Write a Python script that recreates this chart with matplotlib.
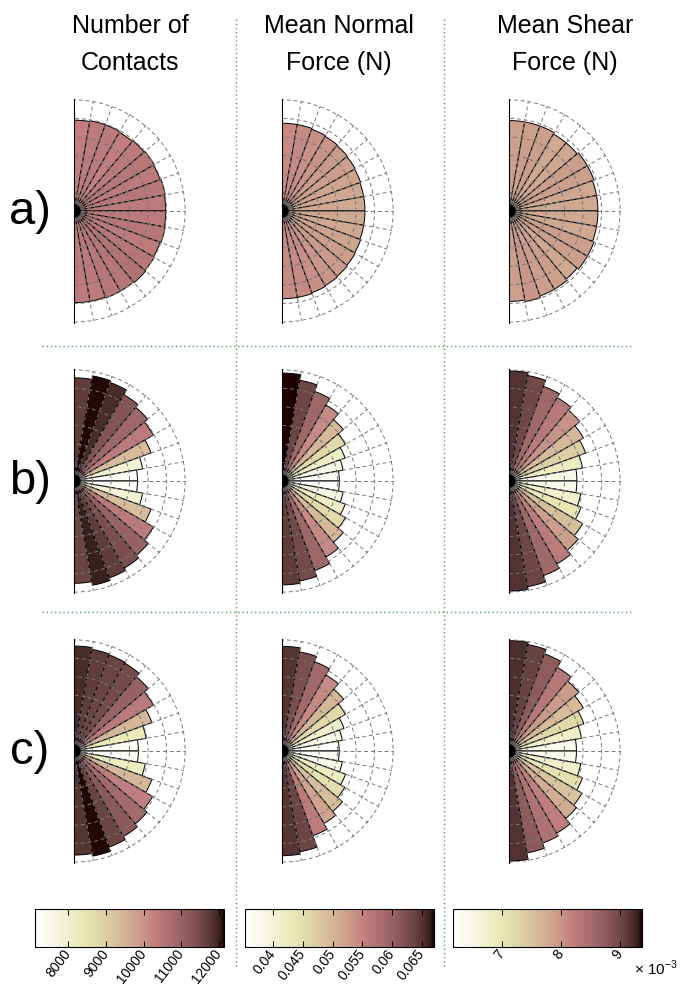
import numpy as np
import matplotlib
matplotlib.use('Agg')
import matplotlib.pyplot as plt
from matplotlib.lines import Line2D
from matplotlib.colors import Normalize
from matplotlib.cm import ScalarMappable

plt.rcParams['font.family'] = ['Liberation Sans', 'DejaVu Sans']
plt.rcParams['mathtext.fontset'] = 'custom'
plt.rcParams['mathtext.rm'] = 'Liberation Sans'

W, H = 681, 987

# bin centres in degrees, from the top of the half rose down to the bottom
angles = [85, 75, 65, 55, 45, 35, 25, 15, 5, -5, -15, -25, -35, -45, -55, -65, -75, -85]

col_titles = ['Number of\nContacts', 'Mean Normal\nForce (N)', 'Mean Shear\nForce (N)']
row_labels = ['a)', 'b)', 'c)']

contacts_a = [10300, 10400, 10400, 10300, 10400, 10500, 10400, 10500, 10400,
              10400, 10500, 10400, 10500, 10600, 10500, 10500, 10400, 10400]
contacts_b = [11700, 12100, 11900, 11300, 10900, 10400, 9300, 7900, 7200,
              7200, 7900, 9300, 10400, 11000, 11400, 11700, 12000, 11600]
contacts_c = [11900, 11700, 11600, 11500, 11000, 10400, 9400, 8300, 7300,
              7300, 8200, 9400, 10300, 10800, 11200, 11600, 12100, 11800]

normal_a = [0.0545, 0.0545, 0.054, 0.0535, 0.053, 0.0525, 0.052, 0.0515, 0.0515,
            0.0515, 0.0515, 0.052, 0.0525, 0.053, 0.0535, 0.054, 0.0545, 0.0545]
normal_b = [0.0670, 0.0635, 0.0592, 0.0545, 0.0497, 0.0455, 0.0417, 0.0385, 0.0356,
            0.0356, 0.0385, 0.0418, 0.0455, 0.0497, 0.0545, 0.0592, 0.0630, 0.0645]
normal_c = [0.0650, 0.0625, 0.0590, 0.0545, 0.0500, 0.0455, 0.0410, 0.0380, 0.0355,
            0.0355, 0.0380, 0.0420, 0.0450, 0.0490, 0.0520, 0.0560, 0.0635, 0.0650]

shear_a = [7.9e-3, 7.9e-3, 7.9e-3, 7.8e-3, 7.8e-3, 7.9e-3, 7.9e-3, 7.8e-3, 7.8e-3,
           7.8e-3, 7.8e-3, 7.9e-3, 7.9e-3, 7.8e-3, 7.9e-3, 7.9e-3, 8.0e-3, 7.9e-3]
shear_b = [9.18e-3, 8.99e-3, 8.57e-3, 8.28e-3, 8.03e-3, 7.61e-3, 7.32e-3, 6.87e-3, 6.43e-3,
           6.43e-3, 6.75e-3, 7.00e-3, 7.55e-3, 7.90e-3, 8.25e-3, 8.57e-3, 9.00e-3, 9.18e-3]
shear_c = [9.20e-3, 9.05e-3, 8.75e-3, 8.30e-3, 7.95e-3, 7.60e-3, 7.20e-3, 6.80e-3, 6.40e-3,
           6.40e-3, 6.75e-3, 7.10e-3, 7.50e-3, 7.75e-3, 8.20e-3, 8.40e-3, 8.75e-3, 9.18e-3]

columns = [[contacts_a, contacts_b, contacts_c],
           [normal_a, normal_b, normal_c],
           [shear_a, shear_b, shear_c]]

# colour limits and radial limits of every column
clims = [(7120, 12130), (0.0352, 0.0671), (6.17e-3, 9.37e-3)]
rlims = [(0, 12600), (0, 0.0690), (2.0e-3, 9.25e-3)]

cb_ticks = [[8000, 9000, 10000, 11000, 12000],
            [0.04, 0.045, 0.05, 0.055, 0.06, 0.065],
            [7e-3, 8e-3, 9e-3]]
cb_labels = [['8000', '9000', '10000', '11000', '12000'],
             ['0.04', '0.045', '0.05', '0.055', '0.06', '0.065'],
             ['7', '8', '9']]

cmap = plt.cm.pink_r


# pixel box (from top left) -> figure fraction
def fig_box(x0, y0, w, h):
    return [x0 / W, 1 - (y0 + h) / H, w / W, h / H]


fig = plt.figure(figsize=(W / 100, H / 100), dpi=100)

col_cx = [74, 282, 509]
row_cy = [212, 482, 752]
R = 112

for j, col in enumerate(columns):
    norm = Normalize(*clims[j])
    lo, hi = rlims[j]
    for i, vals in enumerate(col):
        # the half wedge is fitted into a square box, centred
        ax = fig.add_axes(fig_box(col_cx[j] - R / 2, row_cy[i] - R, 2 * R, 2 * R),
                          projection='polar')
        ax.set_thetamin(-90)
        ax.set_thetamax(90)
        vals = np.array(vals)
        bars = ax.bar(np.deg2rad(angles), vals - lo, width=np.deg2rad(10), bottom=lo,
                      color=cmap(norm(vals)), edgecolor='black', linewidth=0.7)
        for b in bars:
            b.set_joinstyle('round')
        # edges meet in a dark blob at the pole
        ax.plot([0], [lo], 'o', color='black', markersize=7, zorder=5)
        ax.set_ylim(lo, hi + (hi - lo) * 0.008)
        ax.set_yticks(np.linspace(lo, hi, 7)[1:])
        ax.set_yticklabels([])
        ax.set_xticks(np.deg2rad(np.arange(-90, 91, 10)))
        ax.set_xticklabels([])
        ax.tick_params(which='both', length=0)
        ax.grid(True, color='#777777', linestyle=(0, (4, 3)), linewidth=0.7)
        for s in ax.spines.values():
            s.set_visible(False)

    # colour bar under the column
    cb_x = [35, 245, 453][j]
    cax = fig.add_axes(fig_box(cb_x, 910, 189, 38))
    cb = fig.colorbar(ScalarMappable(norm=norm, cmap=cmap), cax=cax,
                      orientation='horizontal', ticks=cb_ticks[j])
    cb.ax.set_xticklabels(cb_labels[j])
    cb.ax.tick_params(direction='in', top=True, bottom=True, length=4,
                      width=0.7, labelsize=10, pad=2.5)
    for lab in cb.ax.get_xticklabels():
        lab.set_rotation(52)
        lab.set_ha('right')
        lab.set_va('center')
        lab.set_rotation_mode('anchor')
    cb.outline.set_linewidth(0.8)

    fig.text([130, 339, 565][j] / W, 1 - 14 / H, col_titles[j], ha='center',
             va='top', fontsize=18, linespacing=1.7)

for i, lab in enumerate(row_labels):
    fig.text(30 / W, 1 - row_cy[i] / H, lab, ha='center', va='center', fontsize=34)

fig.text(634 / W, 1 - 968 / H, '× 10$^{\\mathregular{-3}}$', ha='left', va='center',
         fontsize=11)

# dotted separators between the panels
sep = dict(transform=fig.transFigure, color='#5f9a5f', linestyle=(0, (1, 2)),
           linewidth=1.0)
for x in [236, 444]:
    fig.add_artist(Line2D([x / W, x / W], [1 - 20 / H, 1 - 970 / H], **sep))
for y in [347, 613]:
    fig.add_artist(Line2D([42 / W, 632 / W], [1 - y / H, 1 - y / H], **sep))

fig.savefig('out.png', dpi=100)
